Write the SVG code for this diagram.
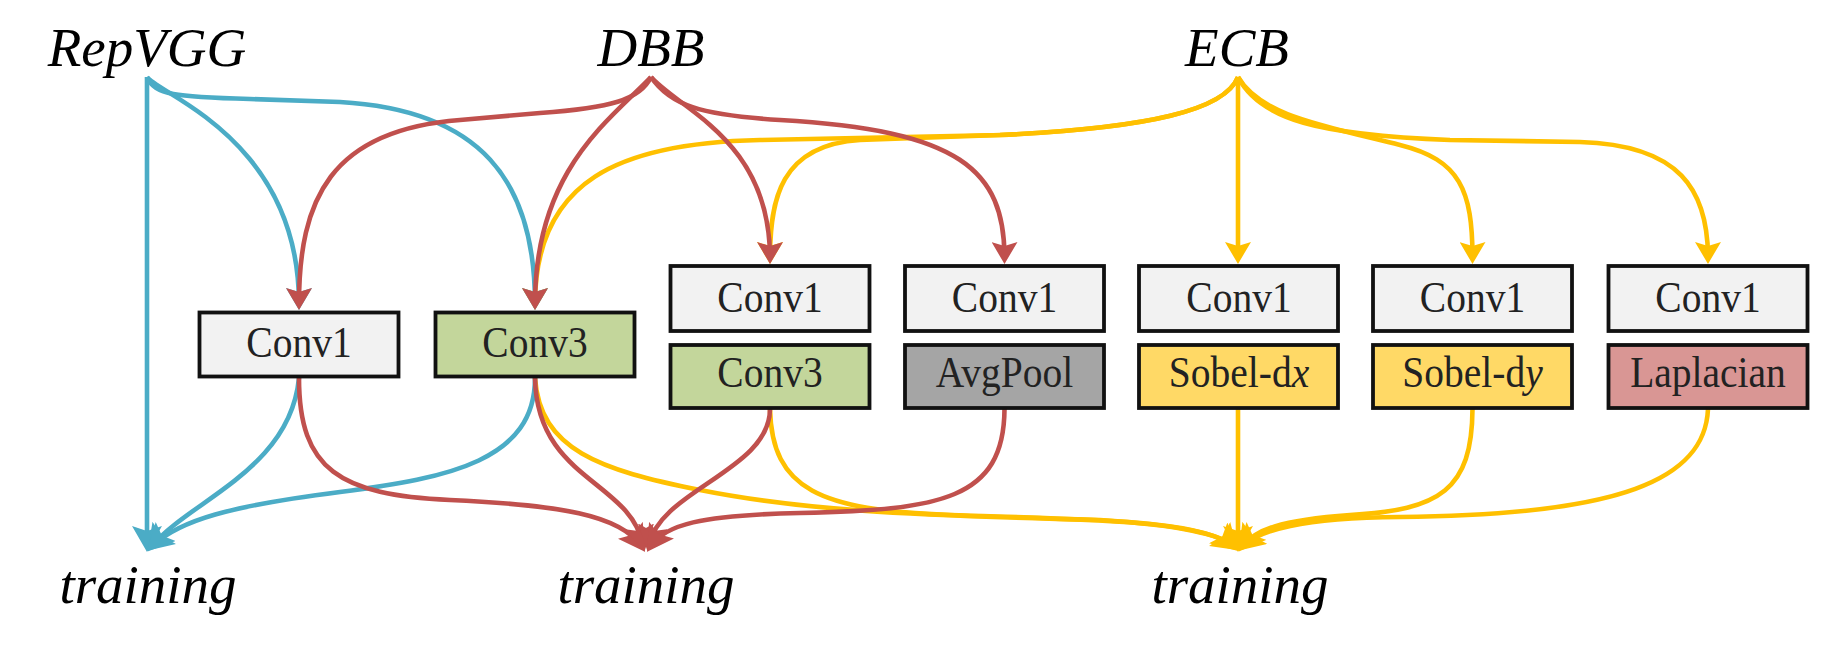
<svg xmlns="http://www.w3.org/2000/svg" width="1846" height="647" viewBox="0 0 1846 647">
<style>
.lbl{font-family:"Liberation Serif","Times New Roman",serif;font-style:italic;font-size:55px;fill:#000;text-anchor:middle}
.box{stroke:#111;stroke-width:3.8}
.bt{font-family:"Liberation Serif","Times New Roman",serif;font-size:39.5px;fill:#222;text-anchor:middle}
.c{fill:none;stroke-width:4.6}
.b{stroke:#4bacc6}
.r{stroke:#c0504d}
.y{stroke:#ffc000}
.g1{fill:#f2f2f2}.g2{fill:#c3d69b}.g3{fill:#a5a5a5}.g4{fill:#ffd966}.g5{fill:#d99694}
</style>
<defs>
<marker id="ab" viewBox="0 0 22 26" refX="16" refY="13" markerWidth="22" markerHeight="26" markerUnits="userSpaceOnUse" orient="auto"><path d="M0,0 L22,13 L0,26 L4,13 z" fill="#4bacc6"/></marker>
<marker id="ar" viewBox="0 0 22 26" refX="16" refY="13" markerWidth="22" markerHeight="26" markerUnits="userSpaceOnUse" orient="auto"><path d="M0,0 L22,13 L0,26 L4,13 z" fill="#c0504d"/></marker>
<marker id="ay" viewBox="0 0 22 26" refX="16" refY="13" markerWidth="22" markerHeight="26" markerUnits="userSpaceOnUse" orient="auto"><path d="M0,0 L22,13 L0,26 L4,13 z" fill="#ffc000"/></marker>
<marker id="bb" viewBox="0 0 26 30" refX="19" refY="15" markerWidth="26" markerHeight="30" markerUnits="userSpaceOnUse" orient="auto"><path d="M0,0 L26,15 L0,30 L5,15 z" fill="#4bacc6"/></marker>
<marker id="br" viewBox="0 0 26 30" refX="19" refY="15" markerWidth="26" markerHeight="30" markerUnits="userSpaceOnUse" orient="auto"><path d="M0,0 L26,15 L0,30 L5,15 z" fill="#c0504d"/></marker>
<marker id="by" viewBox="0 0 26 30" refX="19" refY="15" markerWidth="26" markerHeight="30" markerUnits="userSpaceOnUse" orient="auto"><path d="M0,0 L26,15 L0,30 L5,15 z" fill="#ffc000"/></marker>
</defs>
<rect width="1846" height="647" fill="#fff"/>

<g id="connectors">
<g marker-end="url(#ay)">
<path class="c y" d="M1238,77 L1238,258"/>
<path class="c y" d="M1238,77 C1260,115 1320,125 1400,145 C1460,160 1472.5,190 1472.5,258"/>
<path class="c y" d="M1238,77 C1260,120 1320,135 1450,140 L1580,142 C1680,145 1708,190 1708,258"/>
<path class="c y" d="M1238,77 C1225,110 1150,128 1000,135 L860,140 C780,145 770,200 770,258"/>
<path class="c y" d="M1238,77 C1225,110 1150,128 1000,135 L760,140 C620,143 535,180 535,304"/>
</g>
<g marker-end="url(#by)">
<path class="c y" d="M535,378 C540,450 600,470 700,490 C800,510 900,515 1100,520 C1180,525 1222,535 1233,546"/>
<path class="c y" d="M770,409 C772,490 820,510 950,515 C1100,520 1200,520 1233,546"/>
<path class="c y" d="M1238,409 L1238,545"/>
<path class="c y" d="M1472.5,409 C1472,490 1440,510 1350,515 C1280,520 1255,530 1243,546"/>
<path class="c y" d="M1708,409 C1705,480 1620,515 1400,517 C1300,518 1260,530 1243,546"/>
</g>
<g marker-end="url(#ab)">
<path class="c b" d="M147,77 C160,95 299,140 299,304"/>
<path class="c b" d="M147,77 C155,95 175,97 250,99 L340,102 C480,110 535,180 535,304"/>
</g>
<g marker-end="url(#bb)">
<path class="c b" d="M147,77 L147,545"/>
<path class="c b" d="M299,378 C290,470 190,500 152,546"/>
<path class="c b" d="M535,378 C535,460 450,478 340,492 C230,506 180,520 152,546"/>
</g>
<g marker-end="url(#ar)">
<path class="c r" d="M651,77 C640,100 610,108 540,113 L460,120 C330,130 299,200 299,304"/>
<path class="c r" d="M651,77 C610,120 535,170 535,304"/>
<path class="c r" d="M651,77 C680,110 770,140 770,258"/>
<path class="c r" d="M651,77 C670,105 700,115 780,120 C960,130 1004.5,170 1004.5,258"/>
</g>
<g marker-end="url(#br)">
<path class="c r" d="M299,378 C299,470 340,495 450,500 C560,505 620,515 641,546"/>
<path class="c r" d="M535,378 C537,480 630,480 643,545"/>
<path class="c r" d="M770,409 C770,470 660,490 649,545"/>
<path class="c r" d="M1004.5,409 C1004,500 940,510 800,513 C700,515 665,525 651,546"/>
</g>
</g>

<g id="n-repvgg"><text class="lbl" x="147" y="66">RepVGG</text></g>
<g id="n-dbb"><text class="lbl" x="651" y="66">DBB</text></g>
<g id="n-ecb"><text class="lbl" x="1237" y="66">ECB</text></g>
<g id="n-train1"><text class="lbl" x="148" y="603">training</text></g>
<g id="n-train2"><text class="lbl" x="646" y="603">training</text></g>
<g id="n-train3"><text class="lbl" x="1240" y="603">training</text></g>

<g id="n-conv1a"><rect class="box g1" x="199.5" y="312.5" width="199" height="64"/><text class="bt" transform="translate(299,357) scale(1,1.12)">Conv1</text></g>
<g id="n-conv3a"><rect class="box g2" x="435.5" y="312.5" width="199" height="64"/><text class="bt" transform="translate(535,357) scale(1,1.12)">Conv3</text></g>

<g id="n-c3-top"><rect class="box g1" x="670.5" y="266" width="199" height="65"/><text class="bt" transform="translate(770,312) scale(1,1.12)">Conv1</text></g>
<g id="n-c3-bot"><rect class="box g2" x="670.5" y="345" width="199" height="63"/><text class="bt" transform="translate(770,387) scale(1,1.12)">Conv3</text></g>

<g id="n-c4-top"><rect class="box g1" x="905" y="266" width="199" height="65"/><text class="bt" transform="translate(1004.5,312) scale(1,1.12)">Conv1</text></g>
<g id="n-c4-bot"><rect class="box g3" x="905" y="345" width="199" height="63"/><text class="bt" transform="translate(1004.5,387) scale(1,1.12)">AvgPool</text></g>

<g id="n-c5-top"><rect class="box g1" x="1139" y="266" width="199" height="65"/><text class="bt" transform="translate(1239,312) scale(1,1.12)">Conv1</text></g>
<g id="n-c5-bot"><rect class="box g4" x="1139" y="345" width="199" height="63"/><text class="bt" transform="translate(1239,387) scale(1,1.12)">Sobel-d<tspan font-style="italic">x</tspan></text></g>

<g id="n-c6-top"><rect class="box g1" x="1373" y="266" width="199" height="65"/><text class="bt" transform="translate(1472.5,312) scale(1,1.12)">Conv1</text></g>
<g id="n-c6-bot"><rect class="box g4" x="1373" y="345" width="199" height="63"/><text class="bt" transform="translate(1472.5,387) scale(1,1.12)">Sobel-d<tspan font-style="italic">y</tspan></text></g>

<g id="n-c7-top"><rect class="box g1" x="1608.5" y="266" width="199" height="65"/><text class="bt" transform="translate(1708,312) scale(1,1.12)">Conv1</text></g>
<g id="n-c7-bot"><rect class="box g5" x="1608.5" y="345" width="199" height="63"/><text class="bt" transform="translate(1708,387) scale(1,1.12)">Laplacian</text></g>
</svg>
